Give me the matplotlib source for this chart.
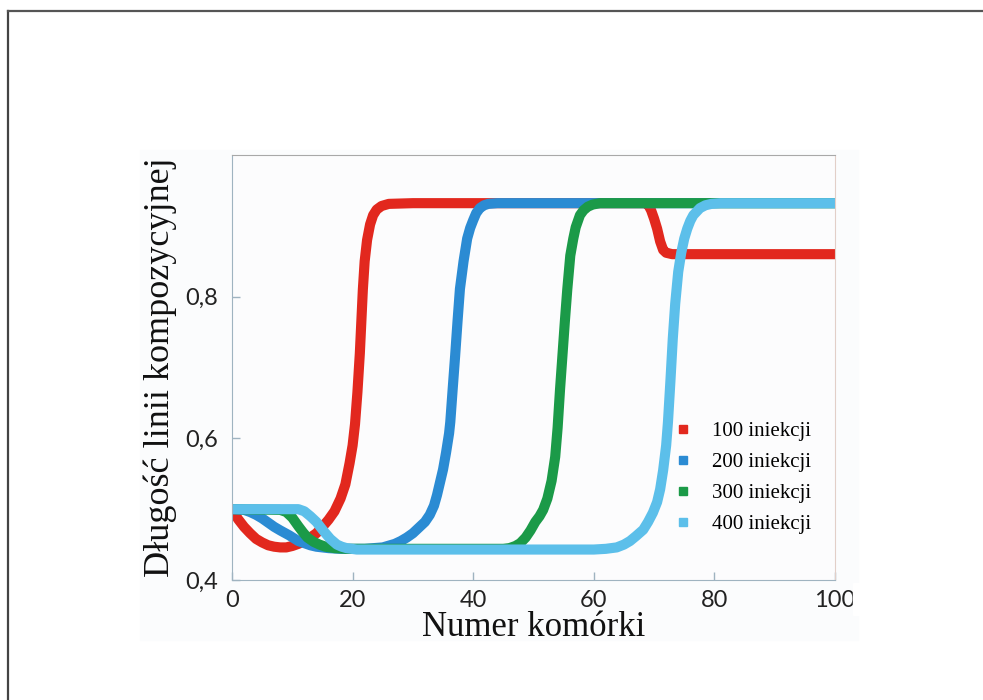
import matplotlib.pyplot as plt
from matplotlib.lines import Line2D
from matplotlib.patches import Rectangle

# values
x_100 = [0, 1, 2, 3, 4, 5, 6, 7, 8, 9, 10, 11, 12, 13, 14, 15, 16, 17, 18, 18.8, 19.5, 20, 20.4, 20.8,
         21.2, 21.7, 22.0, 22.4, 22.9, 23.4, 24, 24.8, 26, 30, 68.5, 69, 69.5, 70, 70.5, 71, 71.5, 72, 73, 100]
y_100 = [0.50, 0.486, 0.475, 0.466, 0.458, 0.453, 0.449, 0.447, 0.446, 0.446, 0.448, 0.451, 0.455, 0.46,
         0.466, 0.475, 0.485, 0.497, 0.515, 0.535, 0.565, 0.59, 0.62, 0.665, 0.72, 0.81, 0.85, 0.88, 0.902,
         0.915, 0.923, 0.928, 0.931, 0.932, 0.932, 0.93, 0.922, 0.91, 0.896, 0.878, 0.866, 0.862, 0.86, 0.86]

x_200 = [0, 2, 3, 4, 5, 6, 7, 8, 9.5, 11, 12, 13, 14, 16, 18, 22, 25, 27, 28, 29, 30, 31, 32, 32.8, 33.5,
         34, 34.5, 35, 35.5, 36, 36.2, 36.6, 37.0, 37.4, 37.8, 38.4, 39, 39.5, 40, 40.5, 41.1, 41.8, 42.5, 44,
         100]
y_200 = [0.50, 0.499, 0.496, 0.492, 0.487, 0.481, 0.475, 0.47, 0.463, 0.455, 0.452, 0.449, 0.447, 0.445,
         0.444, 0.444, 0.446, 0.451, 0.455, 0.46, 0.466, 0.474, 0.482, 0.492, 0.505, 0.52, 0.538, 0.556,
         0.58, 0.607, 0.623, 0.67, 0.716, 0.765, 0.811, 0.85, 0.882, 0.897, 0.908, 0.918, 0.925, 0.929,
         0.931, 0.932, 0.932]

x_300 = [0, 8, 9, 10, 11, 11.8, 12.5, 13.5, 14.5, 15.5, 17, 19, 45, 46, 47, 47.8, 48.7, 49.5, 50.3, 51,
         51.6, 52.3, 53, 53.6, 54, 54.4, 54.8, 55.2, 55.6, 56.1, 56.6, 57, 57.7, 58.3, 59, 59.8, 61, 100]
y_300 = [0.50, 0.499, 0.496, 0.488, 0.476, 0.467, 0.46, 0.454, 0.45, 0.447, 0.445, 0.444, 0.444, 0.445,
         0.448, 0.452, 0.46, 0.47, 0.482, 0.49, 0.499, 0.515, 0.54, 0.574, 0.615, 0.669, 0.717, 0.765, 0.81,
         0.858, 0.882, 0.898, 0.915, 0.922, 0.927, 0.93, 0.932, 0.932]

x_400 = [0, 11, 12, 13, 14, 15.1, 16.3, 17.4, 18.2, 19, 20.7, 60, 62, 63.8, 65, 66, 67, 68.2, 69, 69.8,
         70.5, 71, 71.5, 72, 72.3, 72.7, 73.1, 73.5, 74, 74.5, 75, 75.5, 76, 76.5, 77.6, 78.5, 79.5, 81, 100]
y_400 = [0.50, 0.50, 0.497, 0.49, 0.482, 0.47, 0.458, 0.45, 0.447, 0.445, 0.443, 0.443, 0.444, 0.446,
         0.45, 0.455, 0.462, 0.471, 0.482, 0.495, 0.51, 0.528, 0.555, 0.59, 0.623, 0.68, 0.741, 0.79,
         0.835, 0.862, 0.882, 0.896, 0.907, 0.915, 0.925, 0.929, 0.931, 0.932, 0.932]

labels = ["100 iniekcji", "200 iniekcji", "300 iniekcji", "400 iniekcji"]
colors = ["#e2281e", "#2b8bd3", "#1b9a48", "#5cbfea"]
xticks = [0, 20, 40, 60, 80, 100]
xtick_labels = ["0", "20", "40", "60", "80", "100"]
yticks = [0.4, 0.6, 0.8]
ytick_labels = ["0,4", "0,6", "0,8"]

fig = plt.figure(figsize=(9.83, 7), dpi=100)

# faint background of the pasted figure
fig.add_artist(Rectangle((140 / 983, 1 - 640 / 700), 718 / 983, 490 / 700,
                         transform=fig.transFigure, color="#fbfcfd", zorder=0))
# page frame (left and top only)
fig.add_artist(Line2D([8 / 983, 8 / 983], [0, 1 - 10.5 / 700], transform=fig.transFigure,
                      color="#444444", lw=1.6))
fig.add_artist(Line2D([8 / 983, 1], [1 - 10.5 / 700, 1 - 10.5 / 700], transform=fig.transFigure,
                      color="#555555", lw=1.6))

ax = fig.add_axes([232 / 983, 1 - 580 / 700, 603 / 983, 425 / 700])
ax.set_facecolor("#fcfcfd")

series = [(x_100, y_100), (x_200, y_200), (x_300, y_300), (x_400, y_400)]
for (xs, ys), c in zip(series, colors):
    ax.plot(xs, ys, color=c, lw=7.3, solid_capstyle="butt", solid_joinstyle="round")

ax.set_xlim(0, 100)
ax.set_ylim(0.4, 1.0)
ax.set_xticks(xticks)
ax.set_xticklabels(xtick_labels)
ax.set_yticks(yticks)
ax.set_yticklabels(ytick_labels)
ax.tick_params(direction="in", length=6, width=1, color="#9fb3c0", labelcolor="#222222",
               labelsize=17)
ax.tick_params(axis="x", pad=7)
ax.tick_params(axis="y", pad=10)
for lab in ax.get_xticklabels() + ax.get_yticklabels():
    lab.set_fontfamily("Lato")

for side in ["left", "bottom"]:
    ax.spines[side].set_color("#9fb3c0")
ax.spines["top"].set_color("#a8a8a8")
ax.spines["right"].set_color("#e2cfc8")

ax.set_xlabel("Numer komórki", family="Liberation Serif", fontsize=25, color="#111111", labelpad=0)
ax.set_ylabel("Długość linii kompozycyjnej", family="Liberation Serif", fontsize=26, color="#111111",
              labelpad=6)

handles = [Line2D([], [], marker="s", ls="none", color=c, markersize=6) for c in colors]
leg = ax.legend(handles, labels, loc="upper left", bbox_to_anchor=(0.7, 0.392), frameon=False,
                prop={"family": "Liberation Serif", "size": 15}, handletextpad=0.4,
                labelspacing=0.55, borderaxespad=0)

# the pasted figure ends at x=858, cutting the last x tick label
fig.add_artist(Rectangle((853 / 983, 1 - 615 / 700), 45 / 983, 32 / 700,
                         transform=fig.transFigure, color="white", zorder=5))

fig.savefig("out.png", dpi=100)
